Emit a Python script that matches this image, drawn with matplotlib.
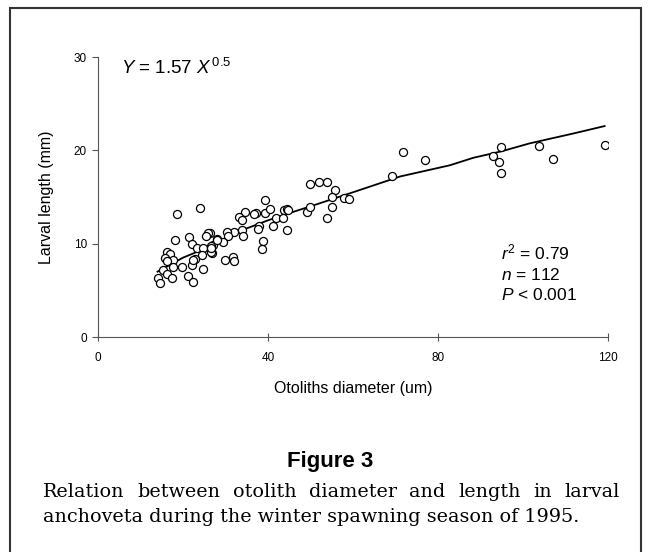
import matplotlib
matplotlib.use('Agg')
import matplotlib.pyplot as plt
from matplotlib.patches import Rectangle

plt.rcParams['font.family'] = 'Liberation Sans'
plt.rcParams['mathtext.fontset'] = 'custom'
plt.rcParams['mathtext.rm'] = 'Liberation Sans'
plt.rcParams['mathtext.it'] = 'Liberation Sans:italic'

# otolith diameter (um) and larval length (mm)
otolith = [119.2, 107.1, 103.7, 94.8, 93.0, 94.3, 94.9,
           71.8, 76.9, 69.1,
           49.9, 52.1, 53.9, 55.8, 55.1, 57.8, 59.1, 55.1, 53.9, 49.2, 49.8,
           39.2, 37.1, 36.8, 39.2, 40.5, 43.8, 44.5, 44.8, 41.9, 41.1, 37.8, 37.6, 44.4, 38.8, 38.7, 43.6,
           34.6, 33.2, 33.9, 33.8, 32.0, 30.4, 34.2, 30.7, 27.9, 29.5, 27.1, 26.7, 26.9, 29.9, 31.7, 31.9, 26.4,
           18.7, 24.1, 18.0, 21.5, 22.0, 25.9, 25.3, 27.9, 23.2, 24.8, 26.6, 24.4, 22.8, 16.2, 17.0, 15.8,
           17.6, 16.2, 17.7, 19.7, 22.0, 24.8, 22.4, 15.2, 16.2, 14.2, 14.6, 17.3, 21.2, 22.4, 26.7]
length = [20.6, 19.1, 20.5, 20.4, 19.4, 18.8, 17.6,
          19.8, 19.0, 17.3,
          16.4, 16.6, 16.6, 15.75, 15.0, 14.9, 14.8, 13.9, 12.75, 13.4, 13.9,
          14.7, 13.3, 13.2, 13.3, 13.7, 13.6, 13.75, 13.6, 12.8, 11.9, 11.9, 11.6, 11.5, 10.25, 9.4, 12.7,
          13.4, 12.9, 12.5, 11.5, 11.2, 11.3, 10.85, 10.8, 10.5, 10.2, 9.9, 9.7, 9.0, 8.25, 8.6, 8.1, 11.1,
          13.2, 13.85, 10.4, 10.75, 10.0, 11.1, 10.8, 10.4, 9.5, 9.5, 9.1, 8.8, 8.4, 9.1, 8.9, 8.5,
          8.3, 8.1, 7.5, 7.5, 7.7, 7.25, 8.25, 7.2, 6.7, 6.3, 5.75, 6.3, 6.5, 5.85, 9.5]

# trend line as drawn
trend_x = [14.0, 20, 26.4, 30, 34.2, 40, 45.2, 50, 59.3, 71.1, 82.8, 88.3, 95, 101.6, 111.8, 119.2]
trend_y = [7.0, 8.5, 9.7, 10.6, 11.5, 12.5, 13.3, 14.0, 15.4, 17.2, 18.4, 19.2, 19.9, 20.75, 21.8, 22.6]

xticks = [0, 40, 80, 120]
yticks = [0, 10, 20, 30]

fig = plt.figure(figsize=(6.5, 5.52), dpi=100)
ax = fig.add_axes([98/650, 1-337/552, 510/650, 280/552])

ax.plot(trend_x, trend_y, color='black', lw=1.3, zorder=2)
ax.plot(otolith, length, 'o', mfc='white', mec='black', ms=5.8, mew=0.9, zorder=3)

ax.set_xlim(0, 120)
ax.set_ylim(0, 30)
ax.set_xticks(xticks)
ax.set_yticks(yticks)
for s in ['top', 'right']:
    ax.spines[s].set_visible(False)
for s in ['left', 'bottom']:
    ax.spines[s].set_color('#555555')
    ax.spines[s].set_linewidth(0.8)
ax.tick_params(axis='x', direction='inout', length=6, width=0.8, color='#555555', labelsize=8.5, pad=8)
ax.tick_params(axis='y', direction='out', length=4, width=0.8, color='#555555', labelsize=8.5, pad=4)

ax.set_xlabel('Otoliths diameter (um)', fontsize=11.5, labelpad=12)
ax.set_ylabel('Larval length (mm)', fontsize=11.5, labelpad=14)

ax.text(0.045, 0.96, r'$Y$ = 1.57 $X^{\,0.5}$', transform=ax.transAxes, fontsize=13.5, va='center')
ax.text(0.79, 0.229, r'$r^2$ = 0.79' + '\n' + r'$n$ = 112' + '\n' + r'$P$ < 0.001',
        transform=ax.transAxes, fontsize=12.5, va='center', linespacing=1.35)

fig.text(330/650, 1-461/552, 'Figure 3', fontsize=16, fontweight='bold', ha='center', va='center')

# caption, first line justified
line1 = 'Relation between otolith diameter and length in larval'.split()
line2 = 'anchoveta during the winter spawning season of 1995.'
x0, x1 = 43/650, 620/650
renderer = fig.canvas.get_renderer()
words = [fig.text(0, 1-492/552, w, fontsize=13.8, family='DejaVu Serif', va='center') for w in line1]
widths = [t.get_window_extent(renderer).width/650 for t in words]
gap = (x1 - x0 - sum(widths)) / (len(words) - 1)
pos = x0
for t, w in zip(words, widths):
    t.set_x(pos)
    pos += w + gap
fig.text(x0, 1-517/552, line2, fontsize=13.8, family='DejaVu Serif', va='center')

fig.add_artist(Rectangle((10/650, -0.02), 631/650, 1.02-8/552, transform=fig.transFigure,
                         fill=False, ec='#333333', lw=1.5))

fig.savefig('out.png', dpi=100)
